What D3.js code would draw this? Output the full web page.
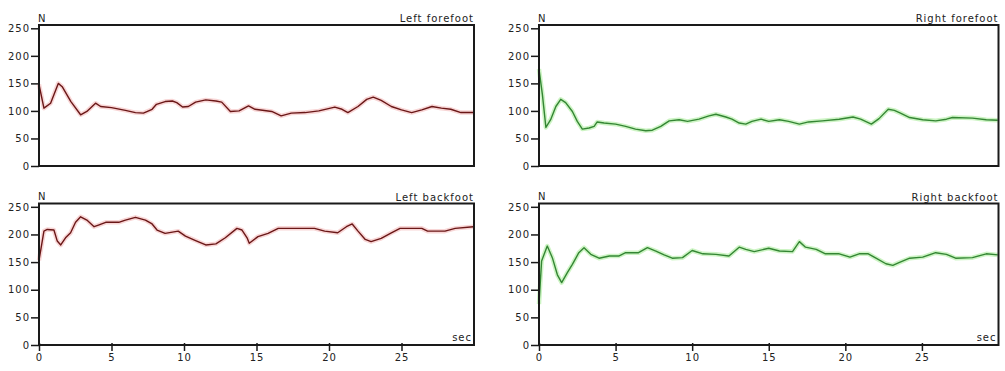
<!DOCTYPE html>
<html><head><meta charset="utf-8">
<script src="https://cdn.jsdelivr.net/npm/d3@7/dist/d3.min.js"></script>
<style>
html,body{margin:0;padding:0;background:#fff;}
svg{display:block;font-family:"DejaVu Sans",Verdana,sans-serif;}
text{fill:#222;font-size:10px;letter-spacing:1px;}
</style></head>
<body><svg id="c" width="1005" height="371"></svg>
<script>
// ---- data ----
const titles = ["Left forefoot", "Right forefoot", "Left backfoot", "Right backfoot"];
const xTickValues = [0, 5, 10, 15, 20, 25];
const yTickValues = [0, 50, 100, 150, 200, 250];
const yUnit = "N";
const xUnit = "sec";

const leftForeT = [0,0.34,0.8,1.33,1.6,2.2,2.87,3.3,3.9,4.25,5.0,5.96,6.65,7.2,7.8,8.1,8.7,9.2,9.5,9.9,10.3,10.8,11.5,12.2,12.6,13.2,13.8,14.45,14.9,16.05,16.7,17.4,18.35,19.3,20.4,20.9,21.3,22.0,22.6,23.05,23.6,24.3,25.0,25.7,26.4,27.1,27.75,28.4,29.1,29.95];
const leftForeF = [148,105,114,150,144,117,93,99,114,108,106,101,97,96,103,112,117,118,115,107,108,116,120,118,116,99,100,109,103,99,91,96,97,100,107,103,97,108,121,125,119,108,102,97,102,108,105,103,97,97];

const rightForeT = [0,0.22,0.45,0.76,1.1,1.42,1.74,2.18,2.5,2.83,3.27,3.6,3.8,4.25,5.0,5.66,6.3,6.97,7.4,7.95,8.5,9.15,9.7,10.45,11.1,11.55,12.2,12.6,13.07,13.5,13.9,14.5,15.0,15.7,16.3,17.0,17.6,18.5,19.6,20.5,21.0,21.7,22.2,22.8,23.2,23.6,24.2,25.05,25.9,26.6,27.0,28.3,29.2,29.95];
const rightForeF = [176,130,70,84,108,121,115,99,81,67,69,72,80,78,76,72,67,64,65,72,82,84,81,85,91,94,89,85,78,76,81,85,81,84,81,76,80,82,85,89,85,76,86,103,101,96,88,84,82,85,88,87,84,83];

const leftBackT = [0,0.34,0.57,1.03,1.26,1.5,1.83,2.18,2.52,2.87,3.3,3.8,4.1,4.6,5.5,5.96,6.65,7.34,7.8,8.14,8.7,9.6,10.1,10.8,11.5,12.2,12.85,13.65,14.0,14.35,14.5,15.1,15.8,16.5,17.9,19.0,19.7,20.6,21.2,21.6,22.0,22.5,22.9,23.6,24.3,24.9,26.4,26.8,28.0,28.7,29.95];
const leftBackF = [153,206,209,208,188,181,194,203,222,232,226,214,217,222,222,226,231,226,219,208,202,206,197,189,181,183,194,211,208,194,184,196,202,211,211,211,206,203,214,219,206,191,187,193,203,211,211,206,206,211,214];

const rightBackT = [0,0.17,0.54,0.87,1.2,1.48,1.85,2.18,2.6,2.94,3.38,3.92,4.6,5.2,5.66,6.5,7.08,7.63,8.17,8.7,9.37,10.0,10.7,11.55,12.4,13.07,13.5,14.05,15.0,15.7,16.55,17.0,17.4,18.1,18.7,19.6,20.3,20.9,21.5,22.0,22.65,23.1,23.5,24.2,25.05,25.9,26.6,27.2,28.3,29.2,29.95];
const rightBackF = [74,152,179,158,127,113,131,146,167,176,164,157,161,161,167,167,176,170,163,157,158,171,165,164,161,177,173,169,175,170,169,187,177,173,165,165,159,165,165,157,147,144,149,157,159,167,164,157,158,165,163];

// ---- layout ----
const svg = d3.select("#c");
const colL = {x0: 39, x1: 474};
const colR = {x0: 539, x1: 998.5};
const rowT = {y0: 25, y1: 166};
const rowB = {y0: 203.5, y1: 345};
const RED = {line: "#6a1717", halo: "#f8d6d6"};
const GRN = {line: "#348634", halo: "#cdf4c4"};

const panels = [
  {title: titles[0], t: leftForeT, f: leftForeF, col: colL, row: rowT, c: RED, xLabels: false},
  {title: titles[1], t: rightForeT, f: rightForeF, col: colR, row: rowT, c: GRN, xLabels: false},
  {title: titles[2], t: leftBackT, f: leftBackF, col: colL, row: rowB, c: RED, xLabels: true},
  {title: titles[3], t: rightBackT, f: rightBackF, col: colR, row: rowB, c: GRN, xLabels: true}
];

panels.forEach(p => {
  const x = d3.scaleLinear().domain([0, 30]).range([p.col.x0, p.col.x1]);
  const y = d3.scaleLinear().domain([0, 256]).range([p.row.y1, p.row.y0]);
  const g = svg.append("g");
  const pts = p.t.map((t, i) => [t, p.f[i]]);
  const line = d3.line().x(d => x(d[0])).y(d => y(d[1]));

  g.append("path").attr("d", line(pts)).attr("fill", "none")
    .attr("stroke", p.c.halo).attr("stroke-width", 4.5).attr("stroke-linejoin", "round");
  g.append("path").attr("d", line(pts)).attr("fill", "none")
    .attr("stroke", p.c.line).attr("stroke-width", 1.4).attr("stroke-linejoin", "round");

  // frame
  g.append("rect").attr("x", p.col.x0).attr("y", p.row.y0)
    .attr("width", p.col.x1 - p.col.x0).attr("height", p.row.y1 - p.row.y0)
    .attr("fill", "none").attr("stroke", "#1a1a1a").attr("stroke-width", 2);

  // y axis
  const ya = g.append("g").attr("transform", `translate(${p.col.x0},0)`)
    .call(d3.axisLeft(y).tickValues(yTickValues).tickSize(8).tickPadding(1));
  ya.select(".domain").remove();
  ya.selectAll(".tick line").attr("stroke", "#1a1a1a").attr("stroke-width", 1.5);
  ya.selectAll(".tick text").attr("font-size", 10).attr("fill", "#222")
    .attr("font-family", "DejaVu Sans");

  if (p.xLabels) {
    const xa = g.append("g").attr("transform", `translate(0,${p.row.y1})`)
      .call(d3.axisBottom(x).tickValues(xTickValues).tickSize(6).tickPadding(3));
    xa.select(".domain").remove();
    xa.selectAll(".tick line").attr("stroke", "#1a1a1a").attr("stroke-width", 1.5).attr("y1", -2);
    xa.selectAll(".tick text").attr("font-size", 10).attr("fill", "#222")
      .attr("font-family", "DejaVu Sans");
    g.append("text").attr("x", p.col.x1 - 2).attr("y", p.row.y1 - 4)
      .attr("text-anchor", "end").text(xUnit);
  }

  g.append("text").attr("x", p.col.x0 - 1).attr("y", p.row.y0 - 3.5).text(yUnit);
  g.append("text").attr("x", p.col.x1).attr("y", p.row.y0 - 3)
    .attr("text-anchor", "end").text(p.title);
});
</script></body></html>
